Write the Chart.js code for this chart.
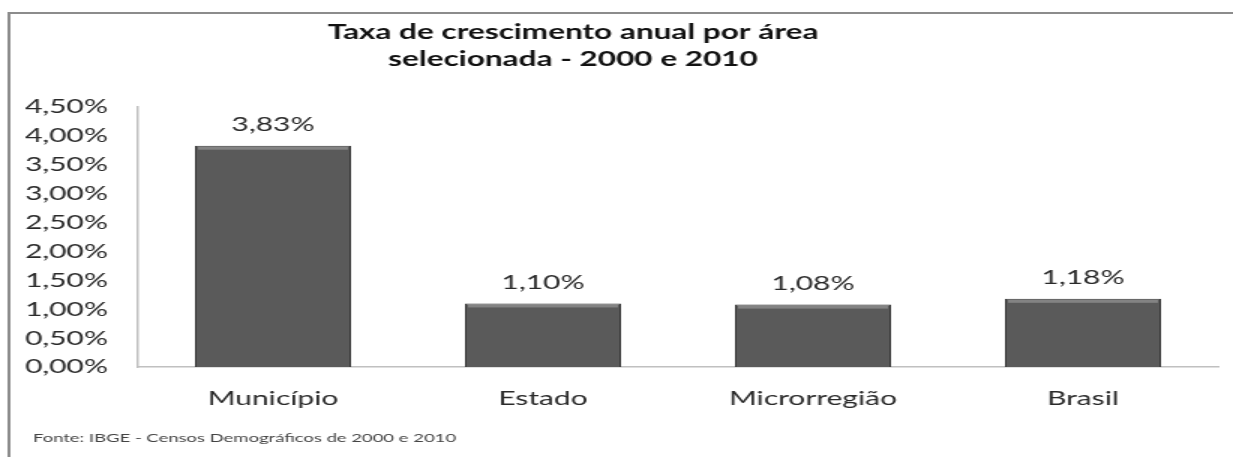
<!DOCTYPE html>
<html>
<head>
<meta charset="utf-8">
<script src="https://cdn.jsdelivr.net/npm/chart.js@4"></script>
<style>
  html, body { margin: 0; padding: 0; background: #fff; overflow: hidden; }
  #wrap { width: 822px; height: 457px; transform: scaleX(1.5); transform-origin: 0 0; }
</style>
</head>
<body>
<div id="wrap"><canvas id="growthChart" width="822" height="457" style="width:822px;height:457px"></canvas></div>
<script>
// data (percent per year)
const categories = ['Município', 'Estado', 'Microrregião', 'Brasil'];
const growthRates = [3.83, 1.10, 1.08, 1.18];
const titleLines = ['Taxa de crescimento anual por área', 'selecionada - 2000 e 2010'];
const sourceNote = 'Fonte: IBGE - Censos Demográficos de 2000 e 2010';

// the picture is stretched 1.5x sideways, so everything is laid out at 822px and scaled by css
const fontName = 'Lato, "Open Sans", sans-serif';

function fmtPct(v) {
    return v.toFixed(2).replace('.', ',') + '%';
}

// darker sides, lighter middle - a rough take on the bevelled excel bars
function barFill(c) {
    const bar = c.element;
    if (!bar || bar.width === undefined || isNaN(bar.x)) return '#5a5a5a';
    const left = bar.x - bar.width / 2;
    const g = c.chart.ctx.createLinearGradient(left, 0, left + bar.width, 0);
    g.addColorStop(0, '#3c3c3c');
    g.addColorStop(0.06, '#585858');
    g.addColorStop(0.94, '#585858');
    g.addColorStop(1, '#3c3c3c');
    return g;
}

const decorations = {
    id: 'decorations',
    afterDraw(chart) {
        const ctx = chart.ctx;
        ctx.save();
        // frame of the original image (only top and left edges are visible)
        ctx.strokeStyle = '#8c8c8c';
        ctx.lineWidth = 2;
        ctx.beginPath();
        ctx.moveTo(6, 460);
        ctx.lineTo(6, 13);
        ctx.lineTo(830, 13);
        ctx.stroke();

        // title
        ctx.fillStyle = '#111';
        ctx.font = 'bold 21px ' + fontName;
        ctx.textAlign = 'center';
        ctx.textBaseline = 'middle';
        ctx.fillText(titleLines[0], 382, 32);
        ctx.fillText(titleLines[1], 382, 59);

        // source note
        ctx.fillStyle = '#444';
        ctx.font = '12.3px ' + fontName;
        ctx.textAlign = 'left';
        ctx.fillText(sourceNote, 22, 438);

        // lighter strip on top of each bar
        chart.getDatasetMeta(0).data.forEach(function (bar) {
            ctx.fillStyle = 'rgba(255,255,255,0.25)';
            ctx.fillRect(bar.x - bar.width / 2 + 2, bar.y + 1, bar.width - 4, 3);
        });

        // value labels above bars
        ctx.fillStyle = '#2a2a2a';
        ctx.font = '20px ' + fontName;
        ctx.textAlign = 'center';
        ctx.textBaseline = 'bottom';
        chart.getDatasetMeta(0).data.forEach(function (bar, i) {
            ctx.fillText(fmtPct(growthRates[i]), bar.x, bar.y - 11);
        });
        ctx.restore();
    }
};

new Chart(document.getElementById('growthChart'), {
    type: 'bar',
    data: {
        labels: categories,
        datasets: [{
            data: growthRates,
            backgroundColor: barFill,
            borderColor: '#353535',
            borderWidth: 1,
            barPercentage: 0.578,
            categoryPercentage: 1
        }]
    },
    options: {
        responsive: false,
        animation: false,
        devicePixelRatio: 1,
        layout: { padding: { top: 107, right: 10, left: 0, bottom: 0 } },
        plugins: {
            legend: { display: false },
            title: { display: false },
            tooltip: { enabled: false }
        },
        scales: {
            x: {
                grid: { display: false, drawTicks: false },
                border: { color: '#c0c0c0', width: 1.5 },
                ticks: { color: '#2a2a2a', font: { family: fontName, size: 20 }, padding: 20 },
                afterFit(scale) { scale.height = 90; }
            },
            y: {
                min: 0,
                max: 4.5,
                grid: { display: false, drawTicks: false },
                border: { color: '#c0c0c0', width: 1.5 },
                ticks: {
                    stepSize: 0.5,
                    color: '#2a2a2a',
                    font: { family: fontName, size: 20 },
                    padding: 20,
                    callback: function (v) { return fmtPct(v); }
                },
                afterFit(scale) { scale.width = 92; }
            }
        }
    },
    plugins: [decorations]
});
</script>
</body>
</html>
